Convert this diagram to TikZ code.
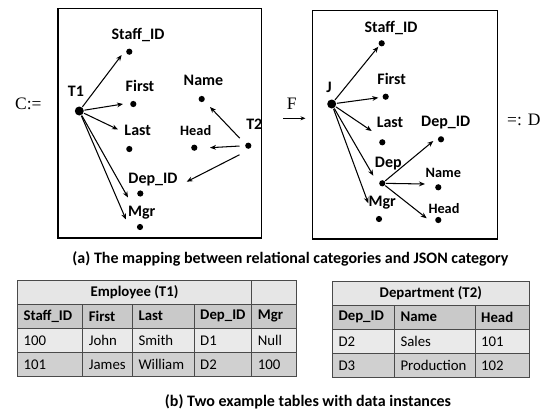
\documentclass[tikz,border=0pt]{standalone}
\usepackage{fontspec}
\setmainfont{Liberation Serif}
\newfontfamily\calfont{Carlito}
\usetikzlibrary{arrows.meta}
\definecolor{rowA}{HTML}{E6E6E6}
\definecolor{rowB}{HTML}{C9C9C9}
\definecolor{rowC}{HTML}{EAEAEA}
\definecolor{rowD}{HTML}{D0D0D0}
\definecolor{gridc}{HTML}{4A4A4A}
\begin{document}
\begin{tikzpicture}[x=1pt,y=-1pt,
  lbl/.style={font=\calfont\bfseries\fontsize{16}{16}\selectfont, inner sep=0},
  slbl/.style={font=\calfont\bfseries\fontsize{14.3}{15}\selectfont, inner sep=0},
  dot/.style={circle, fill=black, minimum size=6.2pt, inner sep=0},
  bigdot/.style={circle, fill=black, minimum size=9pt, inner sep=0},
  arr/.style={-{Stealth[length=6pt,width=4.8pt]}, line width=1.05pt, shorten <=0.5pt},
  frame/.style={draw, line width=1.2pt, anchor=north west, inner sep=0},
  serif/.style={font=\fontsize{17.5}{18}\selectfont, inner sep=0},
  captext/.style={font=\calfont\bfseries\fontsize{16}{16}\selectfont, inner sep=0},
  cell/.style={font=\calfont\fontsize{14.8}{15}\selectfont, inner sep=0, anchor=west},
  hcell/.style={cell, font=\calfont\bfseries\fontsize{14.8}{15}\selectfont},
  tcell/.style={font=\calfont\bfseries\fontsize{14.8}{15}\selectfont, inner sep=0},
  gline/.style={draw=gridc, line width=0.8pt}
]
\useasboundingbox (0,0) rectangle (541,412);

% ---------- left category C ----------
\node[frame, minimum width=203.4pt, minimum height=229pt] (boxC) at (57.3,8.3) {};
\node[serif] (cdef) at (28.3,104.3) {C:=};

\node[bigdot] (t1) at (79.3,111) {};
\node[lbl] (t1l) at (76,91.5) {T1};
\node[dot] (c-sid) at (129.3,51.7) {};
\node[lbl] (c-sidl) at (138,35) {Staff\_ID};
\node[dot] (c-first) at (133.3,104) {};
\node[lbl] (c-firstl) at (140,86) {First};
\node[dot] (c-last) at (129.3,149) {};
\node[lbl] (c-lastl) at (137.7,130) {Last};
\node[dot] (c-dep) at (140.3,193.5) {};
\node[lbl] (c-depl) at (153,180) {Dep\_ID};
\node[dot] (c-mgr) at (140,227) {};
\node[lbl] (c-mgrl) at (141.7,213) {Mgr};
\node[dot] (c-name) at (201.7,99) {};
\node[lbl] (c-namel) at (203.5,80) {Name};
\node[dot] (c-head) at (194.3,147.7) {};
\node[slbl] (c-headl) at (195.7,131) {Head};
\node[dot] (t2) at (248.3,145.7) {};
\node[lbl] (t2l) at (254.3,124) {T2};

\coordinate (a1) at (121.7,55);
\coordinate (a2) at (123,104);
\coordinate (a3) at (118,129.5);
\coordinate (a4) at (128,197.5);
\coordinate (a5) at (126,219.5);
\coordinate (s2a) at (240,138.5);
\coordinate (s2b) at (240,146);
\coordinate (s2c) at (240,154.5);
\coordinate (a6) at (210,107);
\coordinate (a7) at (210,147.7);
\coordinate (a8) at (186.7,181.7);
\draw[arr] (t1) -- (a1);
\draw[arr] (t1) -- (a2);
\draw[arr] (t1) -- (a3);
\draw[arr] (t1) -- (a4);
\draw[arr] (t1) -- (a5);
\draw[arr] (s2a) -- (a6);
\draw[arr] (s2b) -- (a7);
\draw[arr] (s2c) -- (a8);

% ---------- functor F ----------
\node[serif] (fl) at (291.7,103.5) {F};
\coordinate (fa) at (283.3,118.3);
\coordinate (fb) at (305.5,118.3);
\draw[-{Stealth[length=5pt,width=4pt]}, line width=0.9pt] (fa) -- (fb);

% ---------- right category D ----------
\node[frame, minimum width=185pt, minimum height=228.3pt] (boxD) at (311.7,10) {};
\node[serif, anchor=west] (ddef) at (507,120) {=: D};

\node[bigdot] (j) at (331.7,104) {};
\node[lbl] (jl) at (329,87.5) {J};
\node[dot] (d-sid) at (381.7,43.3) {};
\node[lbl] (d-sidl) at (391,28.3) {Staff\_ID};
\node[dot] (d-first) at (385.7,96.7) {};
\node[lbl] (d-firstl) at (391.7,79) {First};
\node[dot] (d-last) at (382.3,142.3) {};
\node[lbl] (d-lastl) at (390,122.7) {Last};
\node[dot] (d-dep) at (382.3,183.3) {};
\node[lbl] (d-depl) at (388.3,164) {Dep};
\node[dot] (d-mgr) at (379,219) {};
\node[lbl] (d-mgrl) at (382.3,202.3) {Mgr};
\node[dot] (d-depid) at (441,139.3) {};
\node[lbl] (d-depidl) at (445.7,122.7) {Dep\_ID};
\node[dot] (d-name) at (438.3,187.3) {};
\node[slbl] (d-namel) at (443.3,173.3) {Name};
\node[dot] (d-head) at (438.3,220) {};
\node[slbl] (d-headl) at (444,208.3) {Head};

\coordinate (b1) at (378.3,46.7);
\coordinate (b2) at (378.3,97.7);
\coordinate (b3) at (371.7,131);
\coordinate (b4) at (373.3,175.7);
\coordinate (b5) at (368.3,203.3);
\coordinate (b6) at (433.3,141);
\coordinate (b7) at (425,184);
\coordinate (b8) at (426.7,218.3);
\draw[arr] (j) -- (b1);
\draw[arr] (j) -- (b2);
\draw[arr] (j) -- (b3);
\draw[arr] (j) -- (b4);
\draw[arr] (j) -- (b5);
\draw[arr] (d-dep) -- (b6);
\draw[arr] (d-dep) -- (b7);
\draw[arr] (d-dep) -- (b8);

% ---------- caption (a) ----------
\node[captext] (capa) at (290.5,259) {(a) The mapping between relational categories and JSON category};

% ---------- Employee table ----------
\fill[rowA] (17.3,280.7) rectangle (296.7,304);
\fill[rowB] (17.3,304) rectangle (296.7,328.3);
\fill[rowC] (17.3,328.3) rectangle (296.7,352.3);
\fill[rowD] (17.3,352.3) rectangle (296.7,376.7);
\foreach \yy in {304,328.3,352.3} \draw[gline] (17.3,\yy) -- (296.7,\yy);
\foreach \xx in {82.7,132.3,194} \draw[gline] (\xx,304) -- (\xx,376.7);
\draw[gline] (251.7,280.7) -- (251.7,376.7);
\draw[gline] (17.3,280.7) rectangle (296.7,376.7);
\node[tcell] (emp) at (134.5,292.3) {Employee (T1)};
\node[hcell] (e-h1) at (23.3,316.2) {Staff\_ID};
\node[hcell] (e-h2) at (88.7,316.2) {First};
\node[hcell] (e-h3) at (138.3,316.2) {Last};
\node[hcell] (e-h4) at (200,316.2) {Dep\_ID};
\node[hcell] (e-h5) at (257.7,316.2) {Mgr};
\node[cell] (e-11) at (23.3,340.3) {100};
\node[cell] (e-12) at (88.7,340.3) {John};
\node[cell] (e-13) at (138.3,340.3) {Smith};
\node[cell] (e-14) at (200,340.3) {D1};
\node[cell] (e-15) at (257.7,340.3) {Null};
\node[cell] (e-21) at (23.3,364.5) {101};
\node[cell] (e-22) at (88.7,364.5) {James};
\node[cell] (e-23) at (138.3,364.5) {William};
\node[cell] (e-24) at (200,364.5) {D2};
\node[cell] (e-25) at (257.7,364.5) {100};

% ---------- Department table ----------
\fill[rowA] (332.3,281.7) rectangle (529.3,305);
\fill[rowB] (332.3,305) rectangle (529.3,329.3);
\fill[rowC] (332.3,329.3) rectangle (529.3,353.3);
\fill[rowD] (332.3,353.3) rectangle (529.3,377.3);
\foreach \yy in {305,329.3,353.3} \draw[gline] (332.3,\yy) -- (529.3,\yy);
\foreach \xx in {394.3,475} \draw[gline] (\xx,305) -- (\xx,377.3);
\draw[gline] (332.3,281.7) rectangle (529.3,377.3);
\node[tcell] (dept) at (430.8,293.3) {Department (T2)};
\node[hcell] (d-h1) at (338.3,317.2) {Dep\_ID};
\node[hcell] (d-h2) at (400.3,317.2) {Name};
\node[hcell] (d-h3) at (481,317.2) {Head};
\node[cell] (d-11) at (338.3,341.3) {D2};
\node[cell] (d-12) at (400.3,341.3) {Sales};
\node[cell] (d-13) at (481,341.3) {101};
\node[cell] (d-21) at (338.3,365.3) {D3};
\node[cell] (d-22) at (400.3,365.3) {Production};
\node[cell] (d-23) at (481,365.3) {102};

% ---------- caption (b) ----------
\node[captext] (capb) at (308,402.3) {(b) Two example tables with data instances};
\end{tikzpicture}
\end{document}
